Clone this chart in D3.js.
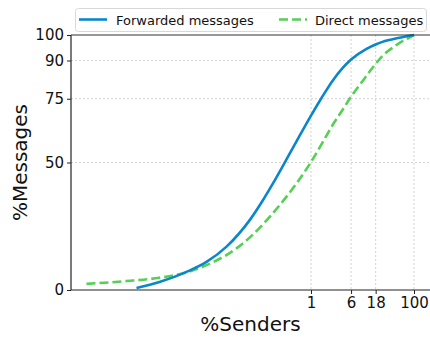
<!DOCTYPE html>
<html>
<head>
<meta charset="utf-8">
<script src="https://cdn.jsdelivr.net/npm/d3@7"></script>
<style>
  html, body { margin: 0; padding: 0; background: #fff; }
  svg { display: block; font-family: "DejaVu Sans", sans-serif; }
</style>
</head>
<body>
<svg id="chart" width="430" height="337"></svg>
<script>
// CDF of messages per sender (log-scaled % senders vs cumulative % messages)
const forwardedX = [0.000409, 0.00114, 0.00383, 0.00935, 0.0229, 0.064, 0.114, 0.179, 0.334, 0.523, 1, 1.6, 2.61, 4.09, 6, 11.97, 18, 24.4, 52.3, 100];
const forwardedY = [0.8, 3.1, 7.1, 11.0, 17.0, 27.3, 34.9, 41.5, 51.2, 58.3, 68.4, 75.3, 82.0, 87.0, 90.4, 94.6, 96.3, 97.3, 98.9, 100];

const directX = [0.0000437, 0.000261, 0.00114, 0.00383, 0.01223, 0.0409, 0.114, 0.245, 0.523, 1, 1.67, 2.61, 4.09, 6, 10.0, 18, 24.4, 38.3, 59.8, 81.8, 100];
const directY = [2.4, 3.5, 4.8, 6.9, 10.8, 17.2, 25.5, 33.2, 41.8, 50.2, 57.8, 64.6, 70.6, 75.8, 81.9, 88.7, 91.8, 95.0, 97.6, 99.0, 100];

const xTicks = [1, 6, 18, 100];
const yTicks = [0, 50, 75, 90, 100];

const seriesNames = ["Forwarded messages", "Direct messages"];
const seriesColors = ["#0a87cb", "#55d055"];

const svg = d3.select("#chart");
const m = { left: 71, right: 430, top: 35, bottom: 290 };

// log axis: one decade spans ~51.5px, 1% senders sits at x=311
const pxPerDecade = 51.5, oneAt = 311;
const x = d3.scaleLog()
  .domain([Math.pow(10, (m.left - oneAt) / pxPerDecade), Math.pow(10, (m.right - oneAt) / pxPerDecade)])
  .range([m.left, m.right]);
const y = d3.scaleLinear().domain([0, 100]).range([m.bottom, m.top]);

// grid
const grid = svg.append("g").attr("stroke", "#c8c8c8").attr("stroke-width", 0.8).attr("stroke-dasharray", "2,2");
grid.selectAll(".gx").data(xTicks).join("line")
  .attr("x1", d => x(d)).attr("x2", d => x(d)).attr("y1", m.top).attr("y2", m.bottom);
grid.selectAll(".gy").data(yTicks.filter(d => d > 0 && d < 100)).join("line")
  .attr("x1", m.left).attr("x2", m.right).attr("y1", d => y(d)).attr("y2", d => y(d));

// curves
const line = d3.line().curve(d3.curveMonotoneX).x(d => x(d[0])).y(d => y(d[1]));
const fwd = forwardedX.map((v, i) => [v, forwardedY[i]]);
const dir = directX.map((v, i) => [v, directY[i]]);

svg.append("path").datum(dir).attr("d", line)
  .attr("fill", "none").attr("stroke", seriesColors[1]).attr("stroke-width", 2.6)
  .attr("stroke-dasharray", "9,4");
svg.append("path").datum(fwd).attr("d", line)
  .attr("fill", "none").attr("stroke", seriesColors[0]).attr("stroke-width", 2.6);

// axes
const xAxis = d3.axisBottom(x).tickValues(xTicks).tickFormat(d3.format("d")).tickSize(4).tickPadding(3);
const yAxis = d3.axisLeft(y).tickValues(yTicks).tickSize(4).tickPadding(3);

const gx = svg.append("g").attr("transform", `translate(0,${m.bottom})`).call(xAxis);
const gy = svg.append("g").attr("transform", `translate(${m.left},0)`).call(yAxis);
[gx, gy].forEach(g => {
  g.select(".domain").attr("stroke", "#222").attr("stroke-width", 1.2);
  g.selectAll(".tick line").attr("stroke", "#222").attr("stroke-width", 1);
  g.selectAll(".tick text").attr("fill", "#111").style("font-size", "15px").style("font-family", "DejaVu Sans");
});
gx.select(".domain").attr("d", `M${m.left},0H${m.right}`);
gy.select(".domain").attr("d", `M0,${m.bottom}V${m.top}`);

// top frame line
svg.append("line").attr("x1", m.left).attr("x2", m.right).attr("y1", m.top).attr("y2", m.top)
  .attr("stroke", "#333").attr("stroke-width", 1.2);

// axis titles
svg.append("text").attr("x", (m.left + m.right) / 2).attr("y", 331)
  .attr("text-anchor", "middle").style("font-size", "20px").attr("fill", "#111").text("%Senders");
svg.append("text").attr("transform", `translate(27,${(m.top + m.bottom) / 2}) rotate(-90)`)
  .attr("text-anchor", "middle").style("font-size", "20px").attr("fill", "#111").text("%Messages");

// legend
const lg = svg.append("g");
lg.append("rect").attr("x", 75.5).attr("y", 8.5).attr("width", 351).attr("height", 23).attr("rx", 3)
  .attr("fill", "#fff").attr("fill-opacity", 0.85).attr("stroke", "#d8d8d8").attr("stroke-width", 1);
const entries = [
  { name: seriesNames[0], color: seriesColors[0], dash: null, x0: 79, tx: 116 },
  { name: seriesNames[1], color: seriesColors[1], dash: "9,4", x0: 279, tx: 315 }
];
entries.forEach(e => {
  lg.append("line").attr("x1", e.x0).attr("x2", e.x0 + 28).attr("y1", 19.5).attr("y2", 19.5)
    .attr("stroke", e.color).attr("stroke-width", 2.6).attr("stroke-dasharray", e.dash);
  lg.append("text").attr("x", e.tx).attr("y", 24.5).style("font-size", "13px").attr("fill", "#111").text(e.name);
});
</script>
</body>
</html>
